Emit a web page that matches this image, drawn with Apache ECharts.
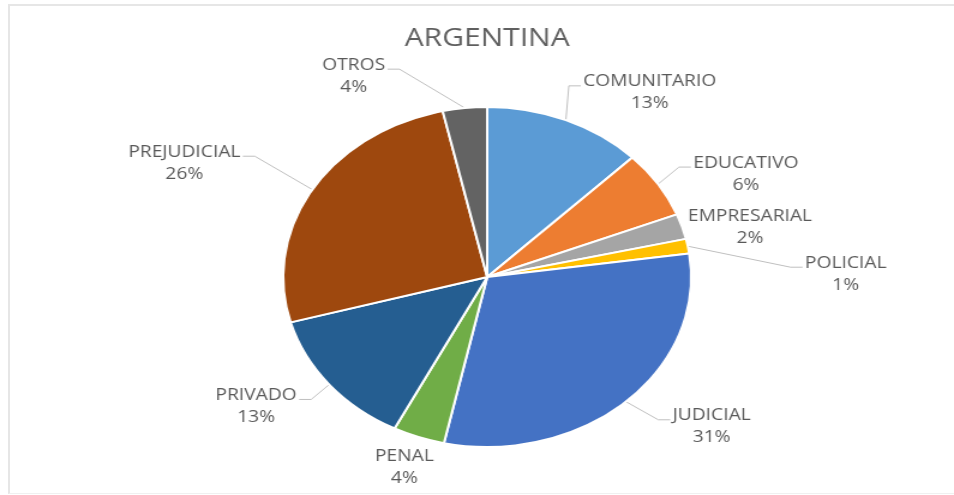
<!DOCTYPE html>
<html><head><meta charset="utf-8">
<script src="https://cdn.jsdelivr.net/npm/echarts@6/dist/echarts.min.js"></script>
<style>
html,body{margin:0;padding:0;background:#fff;overflow:hidden;}
#frame{position:absolute;left:8px;top:4px;width:960px;height:487px;border-left:2px solid #e6e6e6;border-top:2px solid #e6e6e6;border-bottom:1px solid #f0f0f0;}
#c{position:absolute;left:0;top:0;width:795px;height:495px;transform:scaleX(1.2);transform-origin:0 0;}
</style></head>
<body><div id="frame"></div><div id="c"></div>
<script>
const title = 'ARGENTINA';
const categories = ['COMUNITARIO','EDUCATIVO','EMPRESARIAL','POLICIAL','JUDICIAL','PENAL','PRIVADO','PREJUDICIAL','OTROS'];
const values = [12.6, 6.4, 2.4, 1.4, 30.6, 4.1, 13.2, 25.8, 3.5];
const colors = ['#5B9BD5','#ED7D31','#A5A5A5','#FFC000','#4472C4','#70AD47','#255E91','#9E480E','#636363'];
// label nudges (layout only)
const labelShift = [[-11,-7],[-6,2],[-33,7],[59,32],[7,9],[37,10],[7,8],[-24,-15],[-47,-10]];
const showLine = [true,true,false,true,true,false,true,true,true];

const chart = echarts.init(document.getElementById('c'), null, {renderer:'canvas'});
chart.setOption({
  animation:false,
  backgroundColor:'transparent',
  title:{text:title,left:401,top:21,textAlign:'center',
    textStyle:{fontFamily:'Open Sans',fontSize:25,fontWeight:'normal',color:'#5f5f5f'}},
  series:[{
    type:'pie',
    center:[406,277],
    radius:170,
    startAngle:90,
    clockwise:true,
    avoidLabelOverlap:false,
    itemStyle:{borderColor:'#fff',borderWidth:2},
    label:{show:true,position:'outside',
      formatter:p=>'{a|'+p.name+'}\n{a|'+Math.round(p.percent)+'%}',
      rich:{a:{fontFamily:'Open Sans',fontSize:16,color:'#595959',lineHeight:22,align:'center'}},
      fontFamily:'Open Sans',fontSize:16,color:'#595959',lineHeight:22},
    labelLine:{show:true,length:22,length2:12,lineStyle:{color:'#bfbfbf',width:1}},
    labelLayout:p=>{
      const i=p.dataIndex, dx=labelShift[i][0], dy=labelShift[i][1];
      const r=p.labelRect, pts=p.labelLinePoints;
      const out={dx:dx,dy:dy};
      if(pts){
        const s=pts[0];
        const right = s[0] >= 406;
        const ey = r.y+dy+15;
        let ex, mx;
        if(right){ ex=r.x+dx-2; mx=ex-10; } else { ex=r.x+r.width+dx+2; mx=ex+10; }
        out.labelLinePoints = showLine[i] ? [s,[mx,ey],[ex,ey]] : [s,s,s];
      }
      return out;
    },
    data:categories.map((n,i)=>({name:n,value:values[i],itemStyle:{color:colors[i]}}))
  }]
});
</script></body></html>
